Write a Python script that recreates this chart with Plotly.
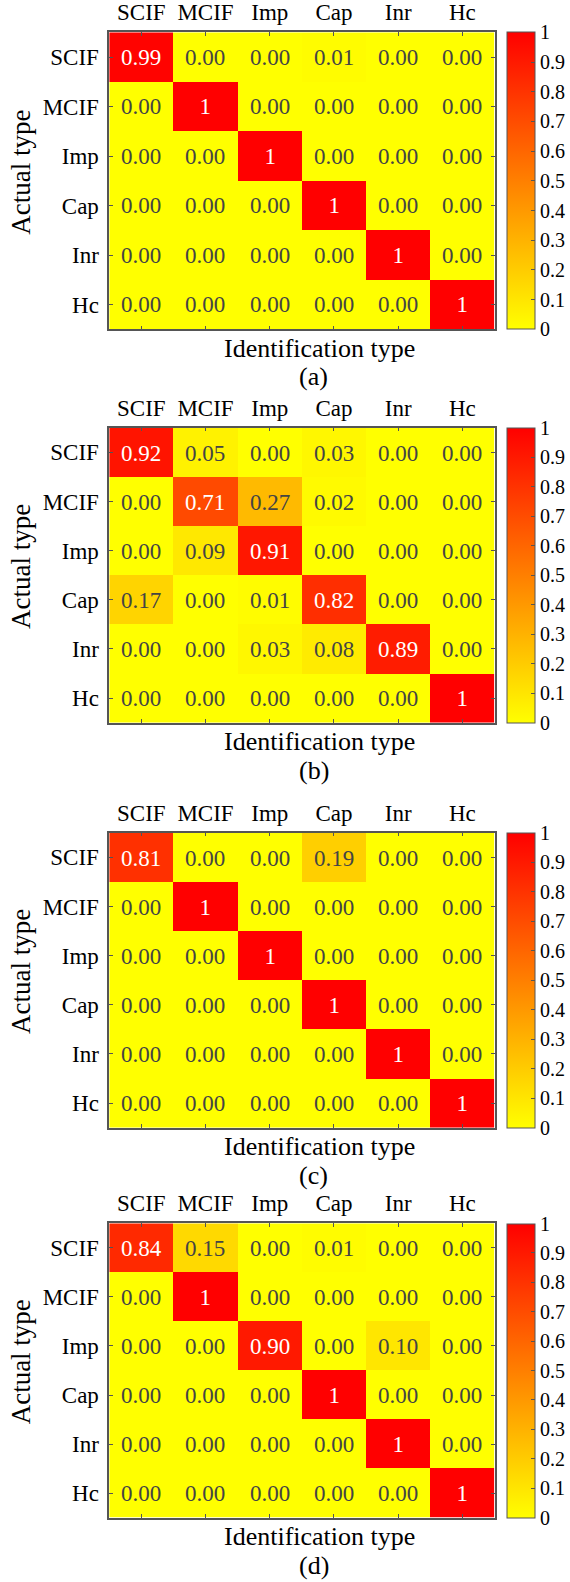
import plotly.graph_objects as go

W, H = 570, 1582

categories = ["SCIF", "MCIF", "Imp", "Cap", "Inr", "Hc"]
panel_labels = ["(a)", "(b)", "(c)", "(d)"]

values_a = [
    [0.99, 0.00, 0.00, 0.01, 0.00, 0.00],
    [0.00, 1.00, 0.00, 0.00, 0.00, 0.00],
    [0.00, 0.00, 1.00, 0.00, 0.00, 0.00],
    [0.00, 0.00, 0.00, 1.00, 0.00, 0.00],
    [0.00, 0.00, 0.00, 0.00, 1.00, 0.00],
    [0.00, 0.00, 0.00, 0.00, 0.00, 1.00],
]
values_b = [
    [0.92, 0.05, 0.00, 0.03, 0.00, 0.00],
    [0.00, 0.71, 0.27, 0.02, 0.00, 0.00],
    [0.00, 0.09, 0.91, 0.00, 0.00, 0.00],
    [0.17, 0.00, 0.01, 0.82, 0.00, 0.00],
    [0.00, 0.00, 0.03, 0.08, 0.89, 0.00],
    [0.00, 0.00, 0.00, 0.00, 0.00, 1.00],
]
values_c = [
    [0.81, 0.00, 0.00, 0.19, 0.00, 0.00],
    [0.00, 1.00, 0.00, 0.00, 0.00, 0.00],
    [0.00, 0.00, 1.00, 0.00, 0.00, 0.00],
    [0.00, 0.00, 0.00, 1.00, 0.00, 0.00],
    [0.00, 0.00, 0.00, 0.00, 1.00, 0.00],
    [0.00, 0.00, 0.00, 0.00, 0.00, 1.00],
]
values_d = [
    [0.84, 0.15, 0.00, 0.01, 0.00, 0.00],
    [0.00, 1.00, 0.00, 0.00, 0.00, 0.00],
    [0.00, 0.00, 0.90, 0.00, 0.10, 0.00],
    [0.00, 0.00, 0.00, 1.00, 0.00, 0.00],
    [0.00, 0.00, 0.00, 0.00, 1.00, 0.00],
    [0.00, 0.00, 0.00, 0.00, 0.00, 1.00],
]
panels = [values_a, values_b, values_c, values_d]

cbar_tickvals = [0, 0.1, 0.2, 0.3, 0.4, 0.5, 0.6, 0.7, 0.8, 0.9, 1]
cbar_ticktext = ["0", "0.1", "0.2", "0.3", "0.4", "0.5", "0.6", "0.7", "0.8", "0.9", "1"]

FONT = "Liberation Serif, Times New Roman, serif"
LINE = "#555555"

# pixel layout (top, bottom) of each panel's plot area
panel_px = [(32.3, 329.3), (427.7, 722.7), (832.7, 1127.7), (1223.3, 1517.7)]
px_left, px_right = 110, 498
cb_left, cb_thick = 511, 28


def fx(px):
    return px / W


def fy(py):
    return 1 - py / H


def fmt(v):
    return "1" if v == 1 else f"{v:.2f}"


fig = go.Figure()
annotations = []

for i, vals in enumerate(panels):
    top, bot = panel_px[i]
    n = i + 1
    xa = "x" if n == 1 else f"x{n}"
    ya = "y" if n == 1 else f"y{n}"
    text = [[fmt(v) for v in row] for row in vals]
    fig.add_trace(go.Heatmap(
        z=vals, x=categories, y=categories, text=text,
        texttemplate="%{text}",
        textfont=dict(family=FONT, size=23),
        colorscale=[[0, "rgb(255,255,0)"], [1, "rgb(255,0,0)"]],
        zmin=0, zmax=1, xgap=0, ygap=0,
        xaxis=xa, yaxis=ya, hoverinfo="skip",
        colorbar=dict(
            x=fx(cb_left), xanchor="left", xpad=0, ypad=0,
            y=fy((top + bot) / 2), yanchor="middle",
            len=bot - top, lenmode="pixels",
            thickness=cb_thick, thicknessmode="pixels",
            outlinewidth=1, outlinecolor=LINE,
            tickvals=cbar_tickvals, ticktext=cbar_ticktext,
            ticks="inside", ticklen=4, tickcolor=LINE,
            tickfont=dict(family=FONT, size=20, color="#000"),
        ),
    ))
    axis_common = dict(
        showline=True, linecolor=LINE, linewidth=1.5, mirror="allticks",
        ticks="inside", ticklen=4, tickcolor=LINE, showgrid=False,
        zeroline=False, tickfont=dict(family=FONT, size=23, color="#000"),
        fixedrange=True,
    )
    xkey = "xaxis" if n == 1 else f"xaxis{n}"
    ykey = "yaxis" if n == 1 else f"yaxis{n}"
    fig.update_layout(**{
        xkey: dict(domain=[fx(px_left), fx(px_right)], anchor=ya, side="top",
                   ticklabelstandoff=1, **axis_common),
        ykey: dict(domain=[fy(bot), fy(top)], anchor=xa, autorange="reversed",
                   ticklabelstandoff=4, **axis_common),
    })
    mid = (top + bot) / 2
    annotations.append(dict(
        text="Actual type", x=fx(21), y=fy(mid - 9), xref="paper", yref="paper",
        textangle=-90, showarrow=False, xanchor="center", yanchor="middle",
        font=dict(family=FONT, size=27, color="#000"),
    ))
    annotations.append(dict(
        text="Identification type", x=fx(322), y=fy(bot + 19), xref="paper", yref="paper",
        showarrow=False, xanchor="center", yanchor="middle",
        font=dict(family=FONT, size=26, color="#000"),
    ))
    annotations.append(dict(
        text=panel_labels[i], x=fx(316), y=fy(bot + 47.5), xref="paper", yref="paper",
        showarrow=False, xanchor="center", yanchor="middle",
        font=dict(family=FONT, size=26, color="#000"),
    ))

fig.update_layout(
    width=W, height=H,
    margin=dict(l=0, r=0, t=0, b=0),
    paper_bgcolor="white", plot_bgcolor="white",
    annotations=annotations,
    font=dict(family=FONT, color="#000"),
)

fig.write_html("out.html")
